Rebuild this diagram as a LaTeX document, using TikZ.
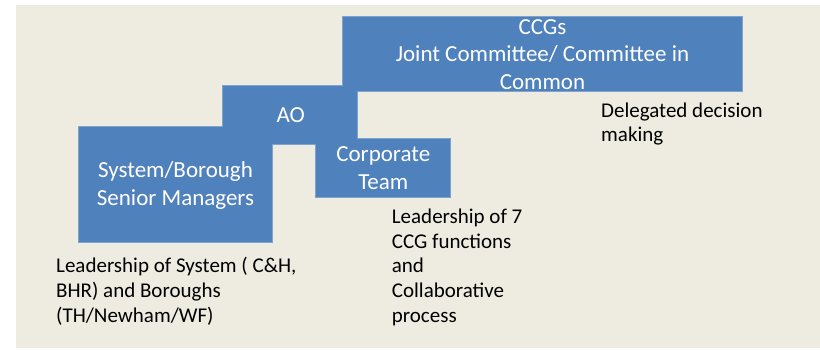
\documentclass[tikz,border=0pt]{standalone}
\usepackage{fontspec}
\setmainfont{Carlito}
\definecolor{bgbeige}{HTML}{EEECE1}
\definecolor{boxblue}{HTML}{4F81BD}
\definecolor{boxedge}{HTML}{7FA3D0}
\tikzset{
  blockbox/.style={rectangle, inner sep=0pt, outer sep=0pt, fill=boxblue, anchor=north west},
  blockedge/.style={rectangle, inner sep=0pt, outer sep=0pt, draw=boxedge, line width=1.2pt, anchor=north west},
  boxtext/.style={inner sep=0pt, text=white, align=center, font=\fontsize{23}{27.5}\selectfont, anchor=base},
  notetext/.style={inner sep=0pt, text=black, align=left, font=\fontsize{21}{24.6}\selectfont, anchor=base west},
}
\begin{document}
\begin{tikzpicture}[x=1pt,y=-1pt]
\useasboundingbox (0,0) rectangle (820,350);
\fill[white] (0,0) rectangle (820,350);
\fill[bgbeige] (16,5) rectangle (820,348);
% outlines first
\node[blockedge, minimum width=193pt, minimum height=115pt] at (79,127) {};
\node[blockedge, minimum width=134pt, minimum height=58pt] at (223,86) {};
\node[blockedge, minimum width=134pt, minimum height=58pt] at (316,139) {};
\node[blockedge, minimum width=399pt, minimum height=74pt] at (343,17) {};
% fills
\node[blockbox, minimum width=193pt, minimum height=115pt] (sys) at (79,127) {};
\node[blockbox, minimum width=134pt, minimum height=58pt] (ao) at (223,86) {};
\node[blockbox, minimum width=134pt, minimum height=58pt] (corp) at (316,139) {};
\node[blockbox, minimum width=399pt, minimum height=74pt] (ccg) at (343,17) {};
% texts (base anchor = baseline of the last line)
\node[boxtext] (ccgt) at (542.5,89.3) {CCGs\\Joint Committee/ Committee in\\Common};
\node[boxtext] (aot) at (290.8,122.3) {AO};
\node[boxtext] (syst) at (175.5,205) {System/Borough\\Senior Managers};
\node[boxtext] (corpt) at (383.3,189.3) {Corporate\\Team};
\node[notetext] (deleg) at (601,141.7) {Delegated decision\\making};
\node[notetext] (leadsys) at (56,322) {Leadership of System ( C\&H,\\BHR) and Boroughs\\(TH/Newham/WF)};
\node[notetext] (leadccg) at (391.7,322) {Leadership of 7\\CCG functions\\and\\Collaborative\\process};
\end{tikzpicture}
\end{document}
